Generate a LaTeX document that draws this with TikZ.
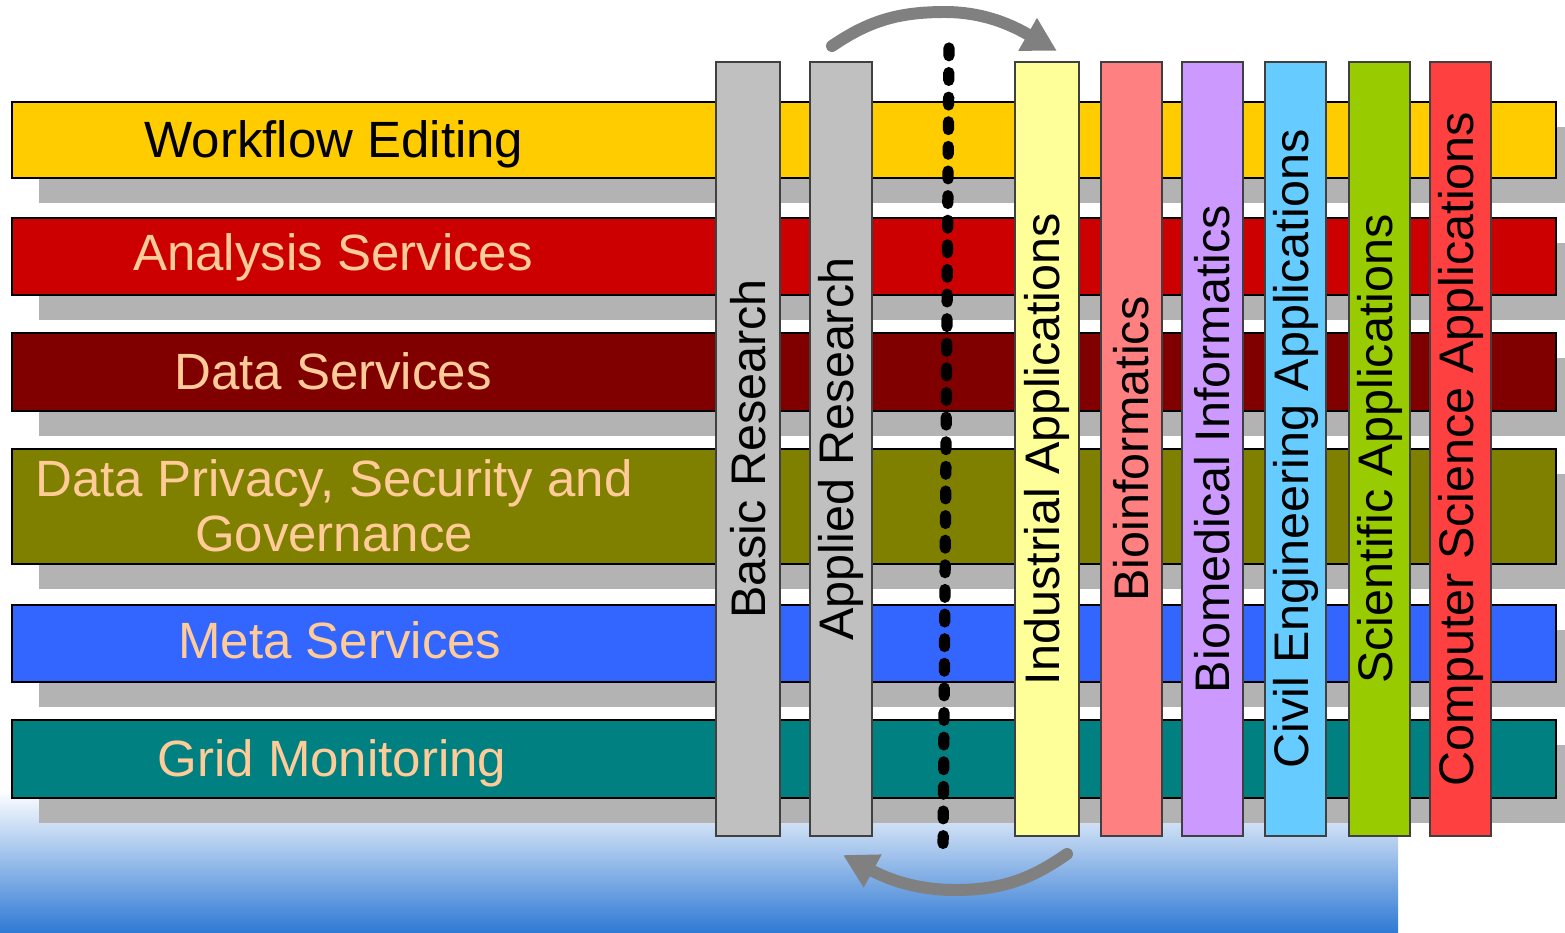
\documentclass[tikz,border=0pt]{standalone}
\usepackage{fontspec}
\setmainfont{Liberation Sans}
\usetikzlibrary{arrows.meta}

\definecolor{shadowgray}{HTML}{B3B3B3}
\definecolor{softorange}{HTML}{FFCC99}
\definecolor{wfyellow}{HTML}{FFCC00}
\definecolor{anred}{HTML}{CC0000}
\definecolor{datared}{HTML}{800000}
\definecolor{privolive}{HTML}{808000}
\definecolor{metablue}{HTML}{3366FF}
\definecolor{gridteal}{HTML}{008080}
\definecolor{pillargray}{HTML}{C0C0C0}
\definecolor{pillaredge}{HTML}{404040}
\definecolor{indyellow}{HTML}{FFFF99}
\definecolor{biopink}{HTML}{FF8080}
\definecolor{medlilac}{HTML}{CC99FF}
\definecolor{civilsky}{HTML}{66CCFF}
\definecolor{scigreen}{HTML}{99CC00}
\definecolor{csred}{HTML}{FF4040}
\definecolor{flowgray}{HTML}{808080}
\definecolor{midblue}{RGB}{184,198,234}
\definecolor{deepblue}{RGB}{47,121,212}

\begin{document}
\begin{tikzpicture}[x=0.01cm,y=-0.01cm]

    \tikzset{
      layer/.style={draw=black, line width=0.5pt},
      shadow/.style={fill=shadowgray},
      layertext/.style={anchor=base, text=softorange, font=\fontsize{14.5}{15.6}\selectfont},
      pillar/.style={
        draw=pillaredge,
        line width=0.5pt,
        rotate=90,
        inner sep=0pt,
        minimum width=7.74cm,
        font=\fontsize{13.8}{16}\selectfont,
      },
      flow/.style={draw=flowgray, line width=3.4pt, line cap=round, -{Triangle[length=9.6pt,width=10pt]}},
      cut/.style={draw=black, line width=3.2pt, line cap=round, dash pattern=on 2.2pt off 4.8pt},
    }
    \useasboundingbox (0,0) rectangle (1565,933);
    \clip (0,0) rectangle (1565,933);

	% background fade
	\shade[top color=white, middle color=midblue, bottom color=deepblue] (0,790) rectangle (1398,933);

	% horizontal layers
	\fill[shadow] (39,127) rectangle (1583,203);
	\draw[layer, fill=wfyellow] (12,102) rectangle (1556,178);
	\fill[shadow] (39,243) rectangle (1583,320);
	\draw[layer, fill=anred] (12,218) rectangle (1556,295);
	\fill[shadow] (39,358) rectangle (1583,436);
	\draw[layer, fill=datared] (12,333) rectangle (1556,411);
	\fill[shadow] (39,474) rectangle (1583,589);
	\draw[layer, fill=privolive] (12,449) rectangle (1556,564);
	\fill[shadow] (39,630) rectangle (1583,707);
	\draw[layer, fill=metablue] (12,605) rectangle (1556,682);
	\fill[shadow] (39,745) rectangle (1583,823);
	\draw[layer, fill=gridteal] (12,720) rectangle (1556,798);

	\node[layertext, text=black] (wf) at (334,157) {Workflow Editing};
	\node[layertext] (an) at (333,270) {Analysis Services};
	\node[layertext] (ds) at (333,389) {Data Services};
	\node[layertext, anchor=center, align=center] (dp) at (334,506) {Data Privacy, Security and\\Governance};
	\node[layertext] (ms) at (340,658) {Meta Services};
	\node[layertext] (gm) at (332,776) {Grid Monitoring};

	% vertical pillars
	\node[pillar, fill=pillargray, minimum height=0.64cm] (basic) at (748,449) {Basic Research};
	\node[pillar, fill=pillargray, minimum height=0.62cm] (applied) at (841,449) {Applied Research};
	\node[pillar, fill=indyellow, minimum height=0.64cm] (ind) at (1047,449) {Industrial Applications};
	\node[pillar, fill=biopink, minimum height=0.61cm] (bio) at (1131.5,449) {Bioinformatics};
	\node[pillar, fill=medlilac, minimum height=0.61cm] (med) at (1212.5,449) {Biomedical Informatics};
	\node[pillar, fill=civilsky, minimum height=0.61cm] (civ) at (1295.5,449) {Civil Engineering Applications};
	\node[pillar, fill=scigreen, minimum height=0.61cm] (sci) at (1379.5,449) {Scientific Applications};
	\node[pillar, fill=csred, minimum height=0.61cm] (cs) at (1460.5,449) {Computer Science Applications};

	% split line and transfer arrows
	\coordinate (cutA) at (949,48);
	\coordinate (cutB) at (943,856);
	\draw[cut] (cutA) -- (cutB);

	\coordinate (fwdA) at (832,46);
	\coordinate (fwdB) at (1057,51);
	\draw[flow] (fwdA) .. controls (870,20) and (900,12) .. (945,12) .. controls (990,12) and (1020,30) .. (fwdB);
	\coordinate (backA) at (1067,854);
	\coordinate (backB) at (843,855);
	\draw[flow] (backA) .. controls (1030,880) and (1000,890) .. (955,890) .. controls (910,890) and (880,875) .. (backB);

\end{tikzpicture}
\end{document}
